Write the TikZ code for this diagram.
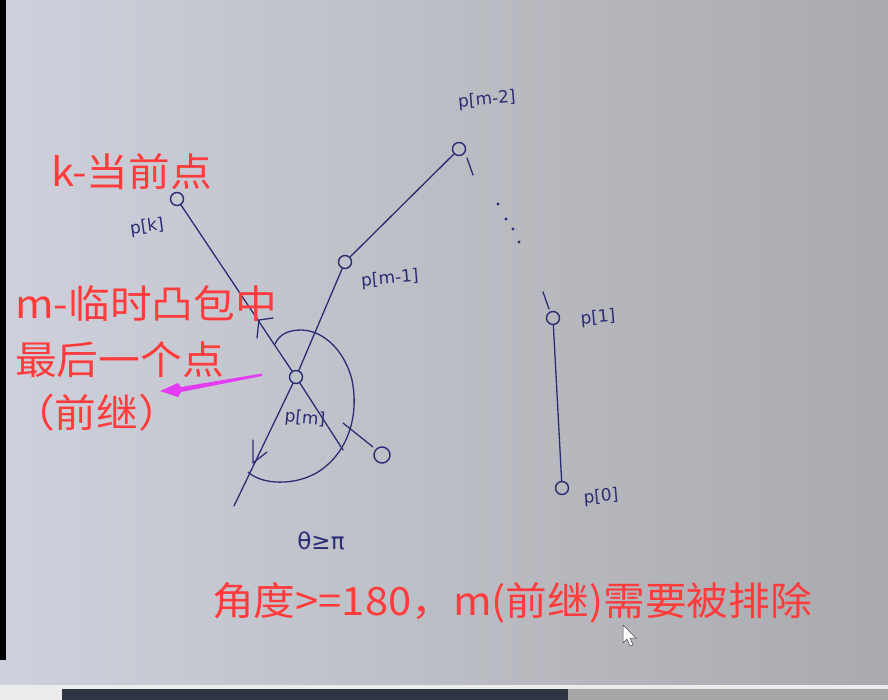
\documentclass[tikz,border=0pt]{standalone}
\usepackage{fontspec}
\newfontfamily\cjk[FakeStretch=1.07]{Noto Sans CJK SC}
\newfontfamily\djv{DejaVu Sans}
\definecolor{inkc}{HTML}{2A2D74}
\definecolor{redc}{HTML}{FF3B3B}
\definecolor{magc}{HTML}{E43CF0}
\definecolor{bgl}{HTML}{CED1DC}
\definecolor{bgr}{HTML}{A9AAAD}
\definecolor{barc}{HTML}{2F3542}
\begin{document}
\begin{tikzpicture}[x=1pt,y=-1pt,
  ink/.style={draw=inkc, line width=1.3pt, line cap=round, line join=round},
  hpt/.style={circle, draw=inkc, line width=1.4pt, minimum size=13pt, inner sep=0pt},
  hw/.style={text=inkc, font=\djv\fontsize{17}{17}\selectfont, inner sep=0pt},
  redlbl/.style={text=redc, font=\cjk\fontsize{39}{42}\selectfont, anchor=base west, inner sep=0pt}
]
\useasboundingbox (0,0) rectangle (888,700);
% background (whiteboard photo)
\shade[left color=bgl, right color=bgr] (0,0) rectangle (888,685);
\fill[black] (0,0) rectangle (6,660);
\fill[gray!15] (0,685) rectangle (888,700);
\fill[barc] (62,689) rectangle (568,700);
\fill[gray!70] (568,689) rectangle (888,700);

% points
\node[hpt] (pk)  at (177,199) {};
\node[hpt] (pm)  at (296,377) {};
\node[hpt] (pm1) at (345,262) {};
\node[hpt] (pm2) at (459,149) {};
\node[hpt] (p1)  at (553,318) {};
\node[hpt] (p0)  at (562,488) {};
\node[circle, draw=inkc, line width=1.4pt, minimum width=12pt, minimum height=16pt, inner sep=0pt, rotate=-10] (q) at (382,455) {};

% free ends
\coordinate (e1) at (343,450);
\coordinate (e2) at (234,506);
\coordinate (t2a) at (467,158);
\coordinate (t2b) at (473,175);
\coordinate (t1a) at (543,292);
\coordinate (t1b) at (549,309);
\coordinate (sa) at (343,423);
\coordinate (sb) at (373,447);

% connectors
\draw[ink] (pk) -- (pm);
\draw[ink] (pm) -- (e1);
\draw[ink] (pm1) -- (pm);
\draw[ink] (pm) -- (e2);
\draw[ink] (pm1) -- (pm2);
\draw[ink] (t2a) -- (t2b);
\draw[ink] (t1a) -- (t1b);
\draw[ink] (p1) -- (p0);
\draw[ink] (sa) -- (sb);

% dots
\foreach \x/\y in {498/204, 506/219, 513/229, 519/242}
  \fill[inkc] (\x,\y) circle (1.6pt);

% angle arc
\draw[ink] (275,344) .. controls (280,333) and (290,330) .. (302,330)
  .. controls (325,331) and (345,352) .. (352,380)
  .. controls (360,420) and (345,455) .. (318,472)
  .. controls (295,486) and (262,485) .. (248,472);

% arrowheads (hand drawn)
\draw[ink] (253,440) -- (253,463) -- (267,452);
\draw[ink] (257,338) -- (259,320) -- (273,318);

% handwritten labels
\node[hw, rotate=8] (lk)  at (147,227) {p[k]};
\node[hw, rotate=5]  (lm1) at (390,279) {p[m-1]};
\node[hw, rotate=5]  (lm2) at (487,100) {p[m-2]};
\node[hw, rotate=5]  (l1)  at (598,318) {p[1]};
\node[hw, rotate=5]  (l0)  at (601,497) {p[0]};
\node[hw, rotate=-5] (lm)  at (305,419) {p[m]};
\node[hw, font=\djv\fontsize{23}{23}\selectfont] (th) at (321,541) {θ≥π};

% red annotations
\node[redlbl] (tk) at (51,187) {k-当前点};
\node[redlbl] (tm1) at (15,319) {m-临时凸包中};
\node[redlbl] (tm2) at (15,374) {最后一个点};
\node[redlbl] (tm3) at (13,427) {（前继）};
\node[redlbl] (tb) at (212,615) {角度>=180，m(前继)需要被排除};

% magenta arrow
\fill[magc] (262,373.5) -- (181,387) -- (178,383) -- (160,391) -- (178,397) -- (181,392) -- (262,376) -- cycle;

% mouse cursor
\draw[gray!60!black, fill=white, line width=0.5pt] (623,625) -- (623,643) -- (627,639) -- (630,646) -- (633,645) -- (630,638) -- (636,638) -- cycle;
\end{tikzpicture}
\end{document}
